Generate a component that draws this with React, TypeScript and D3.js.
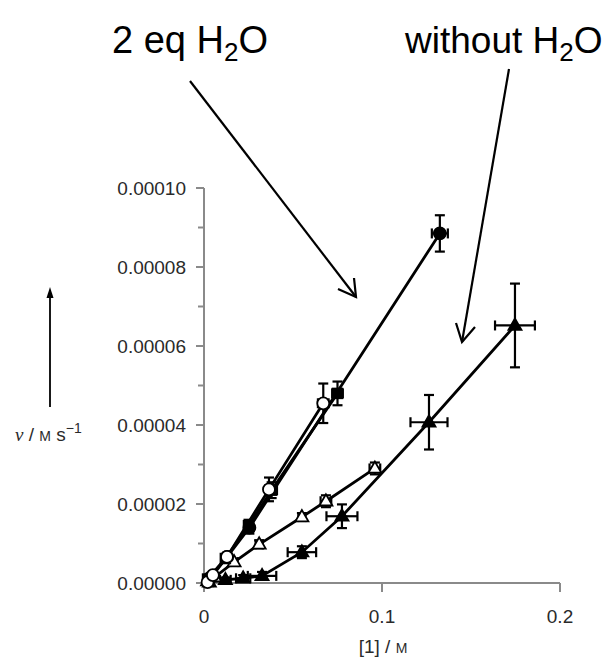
import React from "react";
import * as d3 from "d3";

// ---- data ----
const filledTriX = [0.003, 0.012, 0.022, 0.0326, 0.055, 0.0775, 0.1264, 0.1747];
const filledTriY = [0.0000002, 0.0000008, 0.0000012, 0.0000018, 0.0000078, 0.0000169, 0.0000407, 0.0000652];
const filledTriXErr = [0.002, 0.003, 0.004, 0.008, 0.008, 0.0087, 0.0104, 0.0112];
const filledTriYErr = [0.0000005, 0.0000006, 0.0000008, 0.000001, 0.0000015, 0.000003, 0.0000069, 0.0000106];

const openTriX = [0.002, 0.006, 0.0169, 0.031, 0.055, 0.0685, 0.096];
const openTriY = [0.0000005, 0.0000015, 0.0000053, 0.0000098, 0.0000167, 0.0000207, 0.000029];
const openTriXErr = [0.001, 0.002, 0.002, 0.002, 0.002, 0.003, 0.003];
const openTriYErr = [0.0000003, 0.0000005, 0.0000008, 0.000001, 0.000001, 0.0000015, 0.0000015];

const filledSqX = [0.002, 0.012, 0.025, 0.038, 0.075];
const filledSqY = [0.000001, 0.0000062, 0.0000145, 0.0000235, 0.000048];
const filledSqXErr = [0.001, 0.002, 0.002, 0.003, 0.003];
const filledSqYErr = [0.0000004, 0.000001, 0.0000015, 0.000002, 0.000003];

const filledCircX = [0.003, 0.013, 0.0255, 0.1325];
const filledCircY = [0.0000012, 0.0000066, 0.000014, 0.0000885];
const filledCircXErr = [0.001, 0.002, 0.002, 0.0045];
const filledCircYErr = [0.0000004, 0.000001, 0.0000015, 0.0000046];

const openCircX = [0.002, 0.005, 0.0129, 0.0365, 0.067];
const openCircY = [0.0000002, 0.000002, 0.0000066, 0.0000237, 0.0000455];
const openCircXErr = [0.001, 0.001, 0.002, 0.002, 0.003];
const openCircYErr = [0.0000003, 0.0000005, 0.000001, 0.000003, 0.000005];

const yTicks = [0, 0.00002, 0.00004, 0.00006, 0.00008, 0.0001];
const yTickLabels = ["0.00000", "0.00002", "0.00004", "0.00006", "0.00008", "0.00010"];
const yMinorTicks = [0.00001, 0.00003, 0.00005, 0.00007, 0.00009];
const xTicks = [0, 0.1, 0.2];
const xTickLabels = ["0", "0.1", "0.2"];

const FONT = "'Liberation Sans', Arial, Helvetica, sans-serif";

type Series = { xs: number[]; ys: number[]; xe: number[]; ye: number[]; marker: string };

const series: Series[] = [
  { xs: filledTriX, ys: filledTriY, xe: filledTriXErr, ye: filledTriYErr, marker: "triFilled" },
  { xs: openTriX, ys: openTriY, xe: openTriXErr, ye: openTriYErr, marker: "triOpen" },
  { xs: filledSqX, ys: filledSqY, xe: filledSqXErr, ye: filledSqYErr, marker: "square" },
  { xs: filledCircX, ys: filledCircY, xe: filledCircXErr, ye: filledCircYErr, marker: "circFilled" },
  { xs: openCircX, ys: openCircY, xe: openCircXErr, ye: openCircYErr, marker: "circOpen" },
];

export default function App() {
  const x = d3.scaleLinear().domain([0, 0.2]).range([204, 560]);
  const y = d3.scaleLinear().domain([0, 0.0001]).range([583, 188]);
  const line = d3.line<number>();
  const axisColor = "#8a8a8a";
  const textColor = "#2a2a2a";

  const marker = (m: string, cx: number, cy: number, key: string) => {
    if (m === "triFilled" || m === "triOpen") {
      const s = 13;
      const h = (s * Math.sqrt(3)) / 2;
      const pts = [
        [cx, cy - h * 0.62],
        [cx - s / 2, cy + h * 0.38],
        [cx + s / 2, cy + h * 0.38],
      ];
      return (
        <polygon
          key={key}
          points={pts.map((p) => p.join(",")).join(" ")}
          fill={m === "triFilled" ? "#000" : "#fff"}
          stroke="#000"
          strokeWidth={1.8}
        />
      );
    }
    if (m === "square") {
      const s = 10;
      return <rect key={key} x={cx - s / 2} y={cy - s / 2} width={s} height={s} fill="#000" stroke="#000" strokeWidth={1.5} />;
    }
    return (
      <circle key={key} cx={cx} cy={cy} r={6} fill={m === "circFilled" ? "#000" : "#fff"} stroke="#000" strokeWidth={1.8} />
    );
  };

  return (
    <svg width={607} height={657} style={{ position: "absolute", left: 0, top: 0, background: "#fff" }}>
      <rect x={0} y={0} width={607} height={657} fill="#fff" />
      {/* axes */}
      <line x1={x(0)} x2={x(0)} y1={y(0.0001)} y2={y(0)} stroke={axisColor} strokeWidth={2} />
      <line x1={x(0)} x2={x(0.2)} y1={y(0)} y2={y(0)} stroke={axisColor} strokeWidth={2} />
      {yTicks.map((t, i) => (
        <g key={"yt" + i}>
          <line x1={x(0) - 8} x2={x(0)} y1={y(t)} y2={y(t)} stroke={axisColor} strokeWidth={2} />
          <text x={x(0) - 18} y={y(t)} dy="0.36em" textAnchor="end" fontSize={19} fill={textColor} fontFamily={FONT}>
            {yTickLabels[i]}
          </text>
        </g>
      ))}
      {yMinorTicks.map((t, i) => (
        <line key={"ym" + i} x1={x(0) - 6} x2={x(0)} y1={y(t)} y2={y(t)} stroke={axisColor} strokeWidth={2} />
      ))}
      {xTicks.map((t, i) => (
        <g key={"xt" + i}>
          <line x1={x(t)} x2={x(t)} y1={y(0)} y2={y(0) + 9} stroke={axisColor} strokeWidth={2} />
          <text x={x(t)} y={623} textAnchor="middle" fontSize={19} fill={textColor} fontFamily={FONT}>
            {xTickLabels[i]}
          </text>
        </g>
      ))}
      <text x={383} y={653} textAnchor="middle" fontSize={19} fill={textColor} fontFamily={FONT}>
        [1] / <tspan fontSize={14}>M</tspan>
      </text>
      {/* y label */}
      <text x={15} y={441} fontSize={19} fill={textColor} fontFamily={FONT}>
        <tspan fontStyle="italic" fontFamily="'Liberation Serif', 'Times New Roman', serif">v</tspan> / <tspan fontSize={14}>M</tspan> s
        <tspan fontSize={14} dy={-8}>−1</tspan>
      </text>
      <line x1={50} x2={50} y1={407} y2={296} stroke="#000" strokeWidth={1.8} />
      <polygon points="50,287 46.5,298 53.5,298" fill="#000" />

      {/* data lines */}
      {series.map((s, si) => (
        <path
          key={"l" + si}
          d={line(s.xs.map((v, i) => [x(v), y(s.ys[i])]) as any) || ""}
          fill="none"
          stroke="#000"
          strokeWidth={2.8}
        />
      ))}
      {/* error bars */}
      {series.map((s, si) =>
        s.xs.map((v, i) => {
          const cx = x(v);
          const cy = y(s.ys[i]);
          const x1 = x(v - s.xe[i]);
          const x2 = x(v + s.xe[i]);
          const y1 = y(s.ys[i] + s.ye[i]);
          const y2 = y(s.ys[i] - s.ye[i]);
          return (
            <g key={"e" + si + "_" + i} stroke="#000" strokeWidth={2.2}>
              <line x1={x1} x2={x2} y1={cy} y2={cy} />
              <line x1={x1} x2={x1} y1={cy - 5} y2={cy + 5} />
              <line x1={x2} x2={x2} y1={cy - 5} y2={cy + 5} />
              <line x1={cx} x2={cx} y1={y1} y2={y2} />
              <line x1={cx - 5} x2={cx + 5} y1={y1} y2={y1} />
              <line x1={cx - 5} x2={cx + 5} y1={y2} y2={y2} />
            </g>
          );
        })
      )}
      {/* markers */}
      {series.map((s, si) => s.xs.map((v, i) => marker(s.marker, x(v), y(s.ys[i]), "m" + si + "_" + i)))}

      {/* annotations */}
      <text x={112} y={53} fontSize={38} fill="#000" fontFamily={FONT}>
        2 eq H<tspan fontSize={26} dy={8}>2</tspan>
        <tspan dy={-8}>O</tspan>
      </text>
      <text x={405} y={53} fontSize={37} fill="#000" fontFamily={FONT}>
        without H<tspan fontSize={26} dy={8}>2</tspan>
        <tspan dy={-8}>O</tspan>
      </text>
      <g stroke="#000" strokeWidth={2.2} fill="none">
        <line x1={190} x2={356} y1={81} y2={297} />
        <polyline points="338,289 356,297 354,278" />
        <line x1={509} x2={462} y1={69} y2={342} />
        <polyline points="456,323 462,342 475,327" />
      </g>
    </svg>
  );
}
